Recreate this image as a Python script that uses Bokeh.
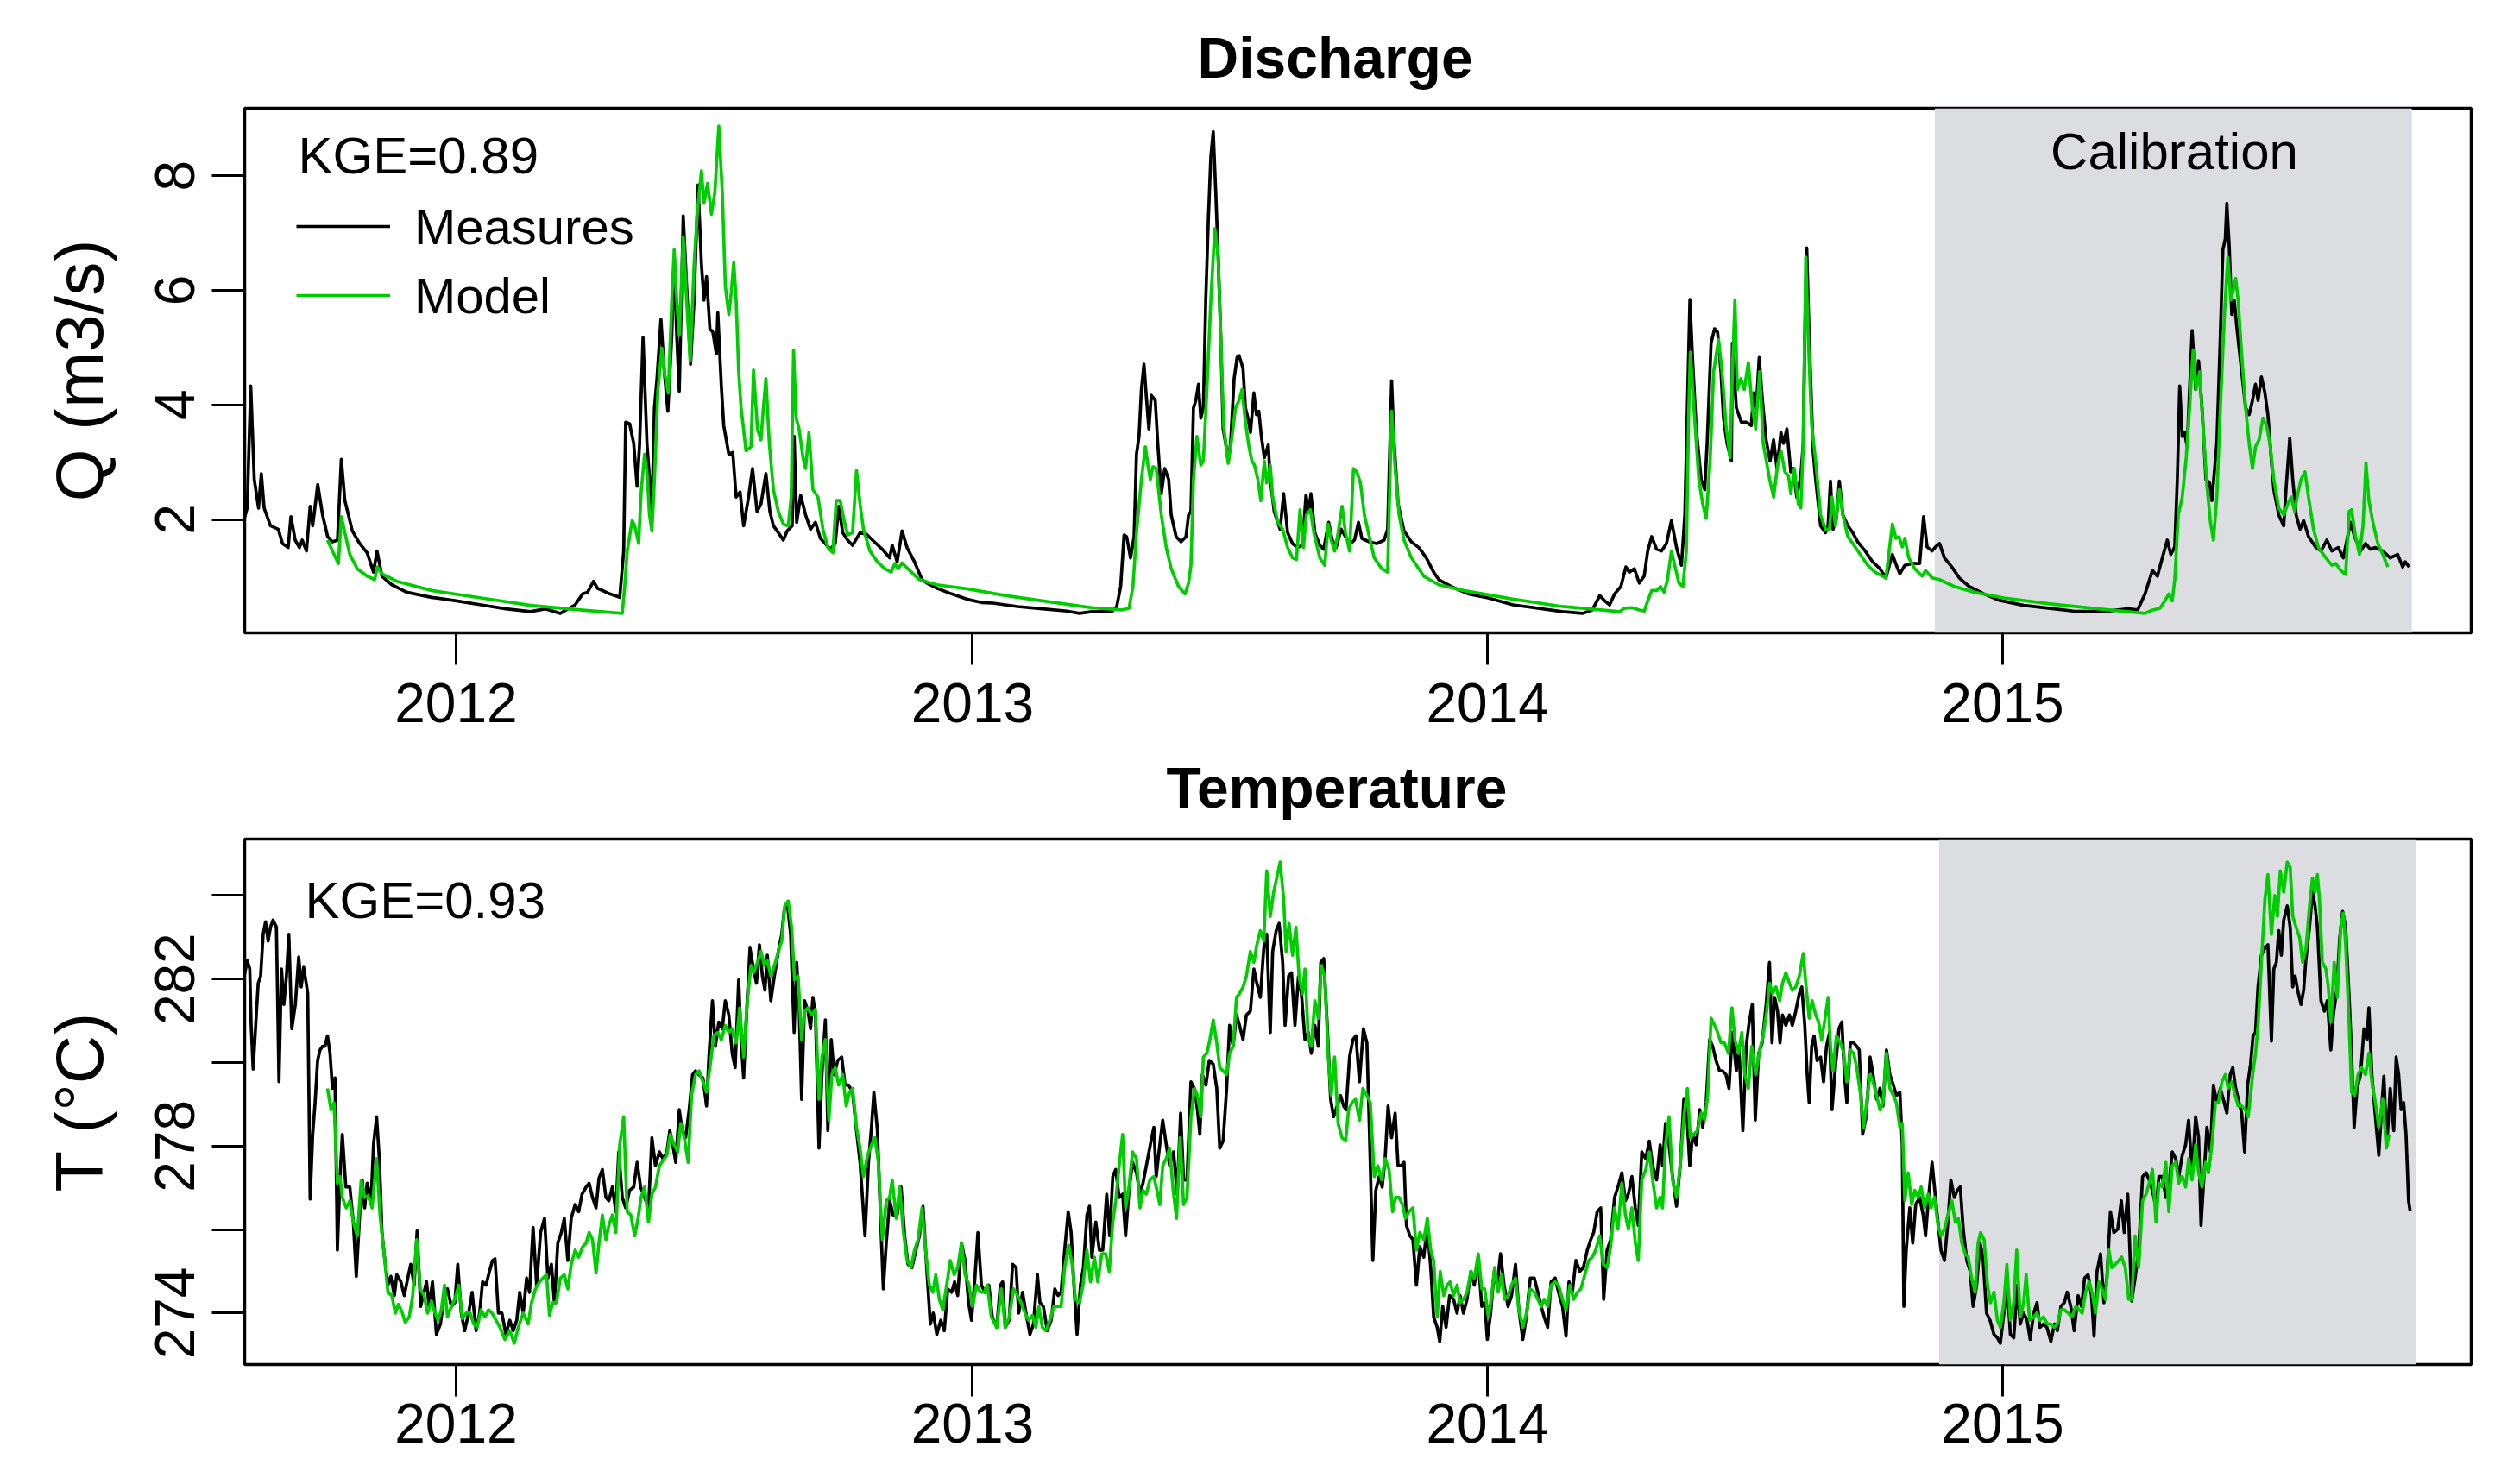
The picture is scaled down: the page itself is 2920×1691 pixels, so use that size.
from bokeh.plotting import figure
from bokeh.layouts import column
from bokeh.models import FixedTicker, BoxAnnotation, Label, Legend, LegendItem, Range1d, Title
from bokeh.embed import file_html
from bokeh.resources import INLINE

# ---------------- data (x = days since 2012-01-01) ----------------
year_ticks = [0, 366, 731, 1096]
year_labels = ["2012", "2013", "2014", "2015"]
q_ticks = [2, 4, 6, 8]
q_labels = ["2", "4", "6", "8"]
t_ticks = [274, 276, 278, 280, 282, 284]
t_labels = ["274", "", "278", "", "282", ""]

kge_q = "KGE=0.89"
kge_t = "KGE=0.93"
calib_q = [1048, 1386]   # calibration period (days), discharge panel
calib_t = [1051, 1389]   # calibration period (days), temperature panel

q_obs = [(-150,2.02),(-148,2.20),(-145.5,4.33),(-143,2.70),(-140,2.20),(-138,2.80),(-136,2.20),(-131.5,1.89),(-126,1.83),(-123,1.58),(-119,1.51),(-117,2.05),(-114,1.64),(-111,1.51),(-109,1.64),(-106,1.45),(-103.4,2.23),(-101.6,1.89),(-98,2.61),(-94.6,2.08),(-91,1.70),(-87.6,1.61),(-84,1.64),(-81.3,3.05),(-78.8,2.33),(-73.5,1.80),(-68.3,1.58),(-63,1.42),(-58.5,1.08),(-56,1.45),(-52.5,1.01),(-45.5,0.86),(-35,0.73),(-17.4,0.64),(0.2,0.58),(17.7,0.51),(35.3,0.44),(52.8,0.39),(63.4,0.44),(73.9,0.36),(84.4,0.51),(89.7,0.70),(93.2,0.73),(97.4,0.92),(100.2,0.80),(109,0.70),(116,0.64),(118.8,1.45),(120.2,3.70),(123,3.67),(125.9,3.33),(128.3,2.58),(130.1,3.33),(132.5,5.18),(135.3,3.33),(138.8,2.14),(140.6,3.95),(142.4,4.46),(145.2,5.49),(147.6,4.58),(150.1,3.89),(152.9,5.21),(154.6,6.58),(156.4,5.21),(158.2,4.24),(161,7.30),(163.4,6.08),(166.2,4.71),(168.7,5.83),(171.5,7.84),(173.9,6.46),(175.7,5.83),(177.5,6.24),(179.9,5.33),(182,5.27),(184.5,4.89),(185.5,5.61),(188,4.33),(189.7,3.64),(193.3,3.14),(196.1,3.17),(198.5,2.39),(201.3,2.48),(203.8,1.89),(207.3,2.39),(210.1,2.89),(213.3,2.14),(216.1,2.27),(219.6,2.80),(222.4,2.14),(224.9,1.89),(228.4,1.77),(231.9,1.64),(234.7,1.80),(238.2,1.89),(239.6,3.45),(241.4,1.95),(244.2,2.42),(247.7,2.08),(251.2,1.83),(254.7,1.95),(258.2,1.67),(261.7,1.58),(265.2,1.48),(268.7,1.58),(271.2,2.23),(274,1.77),(277.5,1.64),(281,1.55),(286.3,1.77),(290.9,1.74),(295.1,1.64),(302.1,1.48),(307.3,1.33),(309.1,1.55),(312.6,1.26),(316.1,1.80),(319.6,1.51),(324.9,1.26),(330.2,0.95),(333.7,0.89),(340.7,0.80),(351.2,0.70),(361.8,0.61),(372.3,0.55),
(380.4,0.54),(398,0.48),(415.5,0.44),(433,0.40),(441.8,0.36),(450.6,0.39),(464.7,0.39),(468.2,0.48),(471,0.83),(473.4,1.73),(475.2,1.70),(478,1.33),(480.5,1.70),(482.2,3.14),(484,3.45),(485.7,4.27),(487.5,4.71),(489.2,4.14),(491,3.58),(492.7,4.17),(495.5,4.08),(497.3,3.33),(499.8,2.45),(502.2,2.89),(505,2.70),(506.8,2.08),(510.3,1.70),(513.8,1.61),(517.3,1.70),(519.1,2.08),(520.8,2.14),(522.6,3.95),(524.3,4.08),(526.1,4.36),(527.8,3.77),(529.6,3.95),(531.3,5.83),(533.1,7.21),(534.9,8.34),(536.6,8.77),(538.4,7.71),(540.1,6.58),(541.9,5.21),(543.6,3.58),(545.4,3.33),(547.2,3.02),(548.9,3.33),(551.4,4.46),(553.5,4.83),(554.9,4.86),(557.7,4.64),(559.4,3.95),(561.2,3.77),(563,3.52),(565.4,4.21),(567.2,3.83),(568.9,3.89),(570.7,3.45),(572.8,3.08),(575.6,3.30),(577,2.70),(579.8,2.14),(582.3,1.95),(584,1.83),(586.5,2.45),(589.3,1.77),(592.8,1.58),(596.3,1.51),(599.8,1.55),(602.3,2.42),(604.4,2.14),(605.8,2.45),(608.6,1.77),(612.1,1.55),(614.9,1.48),(618.4,1.95),(620.9,1.64),(623.7,1.51),(627.2,1.83),(630.3,1.70),(633.9,1.58),(636.7,1.64),(639.5,1.95),(641.9,1.67),(647.2,1.61),(652.5,1.58),(657.7,1.64),(660.2,1.83),(663,4.42),(664.8,3.33),(667.6,2.27),(671.8,1.80),(677,1.61),(682.3,1.51),(687.6,1.33),(692.8,1.08),(696.4,0.95),(705.1,0.83),(717.4,0.70),(731.5,0.63),(749,0.51),(766.6,0.45),(784.1,0.39),(798.2,0.36),(805.2,0.42),(810.5,0.67),(814,0.58),(817.5,0.51),(821,0.70),(825.5,0.83),(829,1.17),(831.5,1.08),(835,1.14),(838.5,0.89),(842,1.01),(844.5,1.45),(847.3,1.70),(850.8,1.48),(854.3,1.45),(857.8,1.58),(861.3,1.98),(864.9,1.51),(868.4,1.20),(870.8,2.08),(872.6,3.95),(874.4,5.84),(876.1,4.89),(878.9,3.58),(882.4,2.70),(884.9,2.52),(886.6,3.33),(889.4,5.08),(891.9,5.33),(894,5.27),(896.4,4.58),(898.2,3.77),(900.7,3.33),
(903.8,3.02),(904.5,5.08),(907.3,3.95),(910.8,3.70),(914.3,3.70),(917.9,3.64),(919.6,4.21),(921.4,3.95),(923.5,4.83),(925.6,4.14),(928.4,3.39),(931.2,3.02),(933.7,3.39),(936.1,2.89),(938.9,3.52),(940.7,3.33),(943.1,3.58),(945.9,2.83),(947.7,2.89),(950.1,2.39),(953,2.77),(954.7,3.33),(955.8,5.21),(957.2,6.74),(958.9,5.21),(961.7,3.20),(963.5,2.70),(967,1.89),(970.5,1.77),(972.3,1.89),(974,2.67),(975.8,1.83),(978.2,2.02),(980.3,2.67),(982.8,2.08),(986.3,1.89),(989.8,1.77),(993.3,1.61),(998.6,1.45),(1003.9,1.26),(1009.1,1.14),(1013.3,0.98),(1017.9,1.39),(1020.7,1.20),(1023.2,1.05),(1026.7,1.20),(1031.9,1.23),(1037.2,1.23),(1040,2.05),(1042.5,1.52),(1046,1.45),(1048.4,1.52),(1051.3,1.58),(1054.8,1.33),(1060,1.17),(1065.3,0.98),(1072.3,0.83),(1082.9,0.70),(1093.4,0.59),(1110.9,0.50),(1128.5,0.45),(1146,0.40),(1167.1,0.39),(1184.7,0.44),(1191.7,0.42),(1196.9,0.70),(1202.2,1.11),(1205.7,1.01),(1209.2,1.33),(1212.7,1.64),(1215.2,1.39),(1218,1.52),(1219.8,2.70),(1221.5,4.33),(1223.3,3.45),(1225,3.52),(1226.8,3.27),(1228.5,4.27),(1230.3,5.30),(1232.8,4.27),(1234.9,4.77),(1237.3,3.95),(1240.1,2.70),(1242.6,2.64),(1244.3,2.33),(1247.8,3.33),(1250.3,5.21),(1252.1,6.71),(1253.8,6.90),(1254.9,7.52),(1256.6,6.77),(1258.4,5.58),(1260.1,5.83),(1262.6,5.21),(1265.4,4.58),(1268.2,3.95),(1270.7,3.83),(1273.1,4.08),(1275.2,4.36),(1277,4.08),(1279.4,4.49),(1281.9,4.21),(1284,3.83),(1286.5,3.02),(1288.2,2.52),(1291.7,2.08),(1295.2,1.89),(1297,2.58),(1299.5,3.42),(1301.6,2.70),(1304,2.08),(1306.8,1.83),(1309.3,1.98),(1312.8,1.70),(1318.1,1.51),(1321.6,1.45),(1325.8,1.64),(1329.3,1.45),(1333.9,1.51),(1337.4,1.33),(1342.6,1.95),(1345.4,1.70),(1349.7,1.45),(1353.2,1.58),(1356.7,1.48),(1360.2,1.51),(1365.4,1.45),(1370.7,1.33),(1376,1.39),(1379.5,1.17),(1381.3,1.26),(1384.1,1.17)]

q_mod = [(-91.1,1.64),(-87.6,1.45),(-83.4,1.23),(-81.3,2.05),(-78.8,1.77),(-75.3,1.39),(-70,1.14),(-63,1.01),(-57.7,0.95),(-55.6,1.17),(-52.5,1.05),(-42,0.92),(-17.4,0.76),(17.7,0.63),(52.8,0.50),(87.9,0.42),(117.8,0.36),(119.5,0.83),(121.3,1.45),(124.8,1.98),(126.6,1.89),(129.4,1.58),(131.1,2.45),(133.6,3.14),(135.3,2.83),(137.1,2.08),(138.8,1.80),(140.6,2.70),(143.1,4.27),(145.9,4.99),(147.6,4.58),(150.4,4.21),(152.9,5.83),(154.6,6.71),(156.4,5.83),(158.2,5.21),(161,6.93),(163.4,5.83),(165.9,4.77),(168.7,6.46),(171.1,7.40),(173.9,8.09),(175.7,7.52),(178.2,7.87),(181,7.33),(183.4,7.71),(186.2,8.87),(188.7,7.71),(190.8,6.08),(193.3,5.58),(195,5.96),(196.8,6.49),(198.5,5.83),(200.3,4.58),(202,3.95),(205.5,3.20),(209,3.27),(210.8,4.61),(213.6,3.58),(216.1,3.39),(217.8,3.95),(219.6,4.46),(222,3.33),(224.9,2.52),(228.4,2.14),(231.9,1.92),(235.4,1.89),(237.5,2.39),(239.2,4.96),(241,3.77),(243.1,3.58),(245.9,3.08),(247.7,2.89),(250.1,3.52),(252.9,2.52),(256.5,2.39),(260,1.83),(263.5,1.51),(267,1.42),(269.4,2.33),(272.2,2.33),(274.7,2.02),(277.5,1.73),(281,1.77),(283.8,2.86),(286.3,2.27),(288.7,1.83),(293.3,1.45),(298.6,1.26),(303.8,1.14),(308.4,1.08),(310.9,1.23),(313.3,1.14),(316.1,1.24),(321.4,1.11),(328.4,0.95),(340.7,0.86),(361.8,0.79),(389.9,0.67),
(415.5,0.58),(450.6,0.46),(471.7,0.42),(476.9,0.45),(479.7,0.83),(482.2,1.77),(485.7,2.70),(488.5,3.27),(490.3,2.95),(492,2.70),(493.8,2.92),(496.2,2.89),(499.8,2.08),(503.3,1.51),(506.8,1.14),(512,0.83),(516.6,0.70),(519.1,0.89),(520.8,1.20),(522.6,2.70),(525,3.45),(527.8,2.95),(529.6,3.02),(532.1,4.27),(534.9,5.83),(537.7,7.08),(540.1,6.58),(541.9,5.21),(544,3.64),(547.2,2.98),(549.6,3.39),(552.4,3.95),(554.9,4.08),(557,4.27),(559.4,3.70),(561.9,3.27),(564,3.02),(565.8,2.95),(568.2,2.70),(570.3,2.33),(572.8,3.02),(574.5,2.64),(577,2.95),(578.7,2.39),(582.3,1.95),(585.8,1.83),(589.3,1.51),(592.8,1.33),(595.6,1.30),(598.1,2.17),(600.5,1.51),(602.6,2.08),(605.4,2.17),(607.9,1.77),(612.1,1.33),(615.6,1.20),(618.1,1.92),(620.2,1.64),(622.6,1.45),(625.1,1.77),(627.9,2.23),(630.3,1.77),(633.2,1.45),(636,2.89),(638.4,2.83),(640.9,2.64),(643.7,2.08),(647.2,1.70),(650.7,1.33),(656,1.14),(660.2,1.08),(663,3.89),(665.5,2.89),(668.3,2.08),(671.8,1.64),(677,1.33),(685.8,1.01),(696.4,0.86),(713.9,0.76),(749,0.61),(784.1,0.48),(824.5,0.39),(828,0.45),(833.3,0.46),(838.5,0.42),(842,0.40),(844.5,0.58),(847.3,0.76),(850.8,0.76),(853.6,0.83),(856.1,0.73),(858.5,0.95),(861.3,1.45),(864.2,1.14),(866.6,0.89),(869.4,0.83),(871.9,1.45),(873.6,3.95),(874.7,4.92),(877.2,3.95),(880.7,2.70),(883.5,2.27),(885.9,2.02),(888.7,3.02),(891.2,4.58),(894.7,5.14),(897.2,4.58),(900,3.64),(902.8,3.08),(904.5,4.58),(906.3,5.83),(908,4.27),(910.5,4.46),(912.9,4.27),(915.8,4.74),(918.6,3.95),(921,3.58),(923.8,4.58),(926.3,3.33),(930.9,2.70),
(933.7,2.39),(936.5,2.95),(938.9,3.20),(941.7,2.83),(944.2,2.77),(945.9,2.45),(948.4,2.89),(951.2,2.27),(953,2.20),(954.7,3.33),(956.5,6.58),(958.2,5.21),(960.7,3.64),(963.5,3.02),(967,2.08),(970.5,1.83),(973.3,1.83),(975.1,2.39),(977.5,1.89),(980.3,2.52),(982.8,2.08),(986.3,1.70),(989.8,1.58),(995.1,1.39),(1000.4,1.20),(1005.6,1.08),(1013.3,0.98),(1017.9,1.92),(1020.4,1.67),(1022.5,1.70),(1024.9,1.52),(1026.7,1.67),(1029.5,1.33),(1033.7,1.14),(1039,1.01),(1041.4,1.11),(1046,0.98),(1051.3,0.95),(1061.8,0.83),(1075.8,0.73),(1096.9,0.63),(1128.5,0.53),(1163.6,0.44),(1196.9,0.36),(1202.2,0.42),(1207.5,0.45),(1211,0.58),(1213.8,0.70),(1216.2,0.58),(1218,0.95),(1220.5,2.08),(1223.3,2.39),(1226.1,3.08),(1228.5,3.95),(1231,4.96),(1233.1,4.27),(1235.6,4.58),(1238,3.64),(1240.8,2.58),(1243.3,1.95),(1245.4,1.64),(1247.8,2.39),(1250.3,3.95),(1253.1,5.52),(1255.6,6.58),(1257.7,5.83),(1259.1,5.96),(1261.2,6.21),(1262.9,5.83),(1265.4,4.89),(1268.2,3.95),(1270.7,3.33),(1273.1,2.89),(1275.2,3.27),(1277.7,3.39),(1280.5,3.77),(1283,3.64),(1285.4,3.33),(1288.2,2.70),(1291.7,2.20),(1295.2,2.08),(1298.1,2.27),(1300.5,2.39),(1303,2.14),(1304.7,2.39),(1307.5,2.70),(1310.3,2.83),(1312.8,2.39),(1316.3,1.83),(1319.8,1.51),(1325.1,1.33),(1329.3,1.20),(1332.1,1.23),(1335.6,1.11),(1339.1,1.04),(1341.6,2.14),(1343.3,2.17),(1346.1,1.70),(1348.9,1.39),(1351.4,1.89),(1353.5,2.99),(1355.6,2.33),(1358.4,1.95),(1361.9,1.58),(1365.4,1.39),(1369,1.17)]

t_obs = [(-150.1,282.07),(-148.0,282.44),(-146.2,282.24),(-145.2,280.89),(-143.8,279.84),(-142.0,280.89),(-140.2,281.90),(-138.5,282.07),(-136.7,283.07),(-135.0,283.37),(-133.2,282.91),(-131.5,283.24),(-129.7,283.41),(-127.3,283.24),(-125.5,279.54),(-123.7,282.24),(-122.0,281.39),(-120.2,282.07),(-118.5,283.07),(-116.4,280.81),(-113.9,281.39),(-111.5,282.53),(-109.7,281.81),(-108.0,282.28),(-106.2,281.90),(-105.1,281.65),(-103.4,276.73),(-101.6,278.28),(-99.9,279.04),(-98.1,280.05),(-96.4,280.30),(-94.6,280.39),(-92.9,280.39),(-91.1,280.64),(-89.3,280.22),(-87.6,279.38),(-85.8,279.63),(-84.1,275.51),(-82.3,277.19),(-80.6,278.28),(-78.1,277.02),(-75.3,277.02),(-72.8,276.18),(-70.7,274.88),(-68.3,276.35),(-66.5,277.19),(-64.8,276.52),(-63.0,277.11),(-60.2,276.69),(-58.5,278.03),(-56.3,278.70),(-54.2,277.61),(-52.5,275.93),(-50.7,275.34),(-48.3,274.67),(-46.2,274.88),(-43.7,274.42),(-42.0,274.92),(-39.1,274.75),(-36.7,274.42),(-34.2,274.84),(-32.1,275.17),(-29.7,274.67),(-27.6,275.97),(-25.1,274.16),(-23.3,274.42),(-20.9,274.75),(-19.1,274.16),(-16.7,274.75),(-13.9,273.49),(-11.1,273.74),(-8.6,274.33),(-6.1,274.58),(-3.3,274.16),(-0.9,274.25),(1.2,275.17),(3.7,274.00),(6.1,273.58),(8.9,274.00),(11.4,274.50),(14.2,273.58),(16.7,274.00),(18.8,274.75),(21.2,274.67),(23.7,275.00),(25.8,275.26),(27.6,275.30),(30.0,274.00),(32.5,274.00),(35.3,273.49),(38.1,273.83),(40.5,273.58),(43.0,273.83),(45.1,274.50),(47.6,274.00),(50.0,274.84),(52.1,274.50),(54.6,276.05),(57.1,274.67),(59.9,275.93),(62.7,276.27),(65.1,274.84),(67.6,275.17),(69.7,274.25),(72.1,275.68),(74.6,275.93),(76.7,276.27),(79.2,275.26),(81.6,276.27),(84.4,276.60),(86.9,276.43),(89.3,276.85),(92.2,277.02),(94.3,277.11),(96.7,276.77),(99.2,276.52),(101.3,277.23),(103.7,277.44),(106.2,276.77),(108.3,276.69),(110.8,277.02),(113.2,276.43),(115.3,277.86),(117.8,276.77),(120.2,276.52),(123.0,276.94),(125.9,277.02),(128.3,277.61),(130.8,277.02),(133.6,276.77),(136.4,276.52),(138.8,278.20),(141.3,277.53),(144.1,277.86),(146.6,277.70),(149.4,277.86),(151.5,278.37),(153.6,278.03),(155.7,277.61),(158.2,278.87),(160.3,278.37),(162.7,278.20),(165.2,278.87),(167.6,279.71),(169.7,279.80),(172.2,279.71),(175.0,279.63),(177.5,278.96),(179.2,280.13),(181.7,281.48),(183.8,280.39),(186.2,280.97),(188.7,280.81),(190.8,281.48),(193.3,281.14),(195.7,280.22),(197.8,279.88),(200.3,281.98),(202.0,280.55),(203.8,279.63),(206.2,281.39),(208.3,282.74),(210.8,282.24),(212.9,281.90),(215.0,282.82),(217.1,282.07),(218.9,281.73),(220.6,282.57),(223.1,281.48),(225.6,282.07),(228.4,282.66),(230.8,283.07),(232.6,283.66),(234.7,283.83),(237.1,283.07),(239.6,280.72),(241.4,282.40),(243.1,281.39),(244.9,279.12),(247.0,281.48),(249.4,281.23),(251.2,280.81),(252.9,281.56),(254.7,281.14),(257.2,277.95),(259.3,279.71),(261.7,281.02),(263.5,278.37),(265.9,280.55),(268.0,279.71),(270.5,280.05),(273.3,280.13),(275.7,279.46),(278.2,279.46),(281.0,279.29),(283.5,278.45),(286.3,277.61),(288.0,276.77),(289.8,275.85),(292.3,277.61),(294.4,278.45),(296.1,279.29),(298.6,278.37),(300.3,276.77),(302.8,274.58),(304.9,275.68),(307.3,276.69),(309.8,276.35),(312.6,276.35),(315.4,277.02),(317.9,275.85),(320.3,275.17),(323.1,275.09),(325.9,275.51),(328.4,275.85),(330.9,276.56),(333.7,275.00),(336.1,273.74),(338.2,274.00),(340.7,273.49),(343.5,273.83),(346.0,273.58),(348.4,274.58),(351.2,274.50),(353.3,274.75),(355.5,274.42),(358.2,275.68),(360.7,275.26),(363.2,274.25),(365.3,273.83),(367.7,274.84),(369.8,275.93),(372.3,274.67),(374.8,274.50),(377.6,274.67),(380.0,273.91),
(383.2,273.66),(385.7,274.67),(387.4,274.75),(389.2,273.66),(392.0,273.83),(394.4,275.17),(396.9,275.09),(398.7,274.00),(401.5,274.50),(403.9,274.00),(406.7,273.49),(409.2,273.74),(412.0,274.92),(413.8,274.25),(416.2,274.16),(419.0,273.58),(421.8,273.83),(424.3,274.58),(426.7,274.42),(428.8,274.50),(431.3,275.51),(433.8,276.43),(435.9,275.93),(437.6,274.84),(440.1,273.49),(442.5,274.67),(444.6,275.09),(447.1,276.35),(448.9,276.56),(450.6,275.34),(453.4,276.18),(455.9,275.51),(458.3,275.51),(461.1,276.85),(463.2,275.85),(465.4,277.27),(467.5,277.44),(469.9,276.77),(472.4,276.85),(474.5,275.85),(476.9,276.94),(479.4,277.61),(482.2,277.36),(484.7,276.85),(486.8,277.11),(489.2,277.53),(492.0,278.03),(494.5,278.45),(496.2,277.27),(498.7,278.03),(500.8,278.62),(503.3,278.03),(505.7,277.53),(508.5,277.86),(511.0,276.85),(513.5,278.79),(515.6,277.19),(518.0,277.19),(520.8,279.54),(523.3,279.38),(525.4,278.87),(527.1,278.28),(528.9,279.71),(531.4,279.46),(533.8,280.05),(536.6,279.96),(539.1,279.38),(541.2,277.95),(543.6,278.12),(546.1,279.38),(548.2,280.89),(550.7,280.39),(553.1,281.14),(555.2,280.89),(557.7,280.55),(560.1,281.14),(562.9,281.23),(565.4,282.24),(567.5,281.90),(570.0,281.56),(572.4,282.74),(574.5,283.07),(577.0,280.72),(578.7,282.66),(581.2,283.16),(583.3,283.33),(585.8,282.40),(587.5,280.89),(590.0,282.07),(592.1,282.15),(594.5,280.89),(597.0,282.07),(599.1,281.65),(601.6,280.55),(604.0,280.72),(606.1,280.22),(608.6,280.89),(611.0,280.39),(612.8,282.40),(614.9,282.49),(617.4,280.89),(619.8,279.12),(621.9,278.70),(624.4,278.96),(626.8,279.21),(629.0,278.96),(630.7,278.87),(633.2,280.13),(635.6,280.55),(637.7,280.64),(640.2,279.54),(643.0,280.81),(645.5,280.47),(647.2,278.45),(649.7,275.26),(651.8,276.94),(654.2,277.27),(656.3,277.02),(658.4,277.70),(660.5,278.96),(663.0,278.20),(665.5,278.79),(667.6,277.53),(669.7,277.53),(671.8,277.61),(673.5,276.10),(676.0,275.85),(678.1,275.76),(680.6,274.67),(683.0,275.59),(685.8,275.34),(688.3,276.10),(690.7,275.09),(692.8,273.91),(695.3,273.66),(697.1,273.32),(699.2,274.16),(701.6,273.66),(704.1,274.42),(706.9,274.33),(709.4,274.00),(711.5,274.42),(713.9,274.00),(716.4,274.33),(719.2,275.00),(721.6,274.67),(724.4,275.26),(726.9,274.16),(729.0,274.25),(730.8,273.37),(733.2,274.00),(735.7,275.00),(737.8,274.67),(740.2,275.42),(742.7,274.67),(745.5,274.16),(748.0,274.42),(750.8,275.17),(753.2,274.08),(756.0,273.37),(758.5,273.91),(761.3,274.84),(764.1,274.84),(766.6,274.50),(769.0,274.16),(771.1,273.91),(773.6,273.66),(776.0,274.75),(778.9,274.84),(781.3,274.50),(784.1,274.16),(786.6,273.45),(788.7,274.75),(791.1,274.50),(793.6,275.26),(796.4,275.00),(798.9,275.09),(801.7,275.51),(804.1,275.76),(806.2,275.93),(808.7,276.43),(811.2,276.52),(813.3,274.33),(815.7,275.51),(818.2,275.76),(821.0,276.77),(823.4,277.02),(826.2,277.36),(828.7,276.69),(830.8,276.85),(833.3,277.27),(835.7,276.52),(837.8,276.10),(840.3,277.86),(843.1,277.70),(845.6,278.12),(848.0,277.53),(850.8,277.19),(853.3,278.03),(855.0,277.53),(857.1,278.54),(859.6,278.03),(862.1,277.27),(864.9,276.56),(867.7,277.61),(870.1,279.12),(871.9,278.96),(874.3,277.53),(876.4,278.28),(878.9,278.03),(881.4,278.87),(883.5,278.45),(885.9,279.04),(888.4,280.55),(890.5,280.39),(892.9,280.05),(895.4,279.80),(897.5,279.80),(900.0,279.71),
(902.1,279.38),(904.5,280.72),(907.3,279.80),(909.1,280.39),(911.9,278.37),(914.3,280.39),(916.1,280.89),(918.6,281.39),(920.7,278.62),(923.1,280.22),(925.6,280.47),(928.4,281.39),(930.8,282.40),(932.6,280.47),(934.4,281.56),(936.5,281.23),(938.2,280.47),(940.0,281.14),(942.4,280.89),(944.9,281.14),(947.0,280.89),(949.4,281.23),(951.9,281.65),(953.7,281.81),(955.8,280.89),(957.5,279.71),(958.9,279.04),(960.7,280.39),(962.4,280.64),(964.5,280.05),(967.0,280.13),(969.1,279.54),(971.2,280.39),(973.3,280.72),(975.1,278.87),(977.5,279.88),(980.0,280.81),(982.1,280.97),(983.9,279.71),(985.6,279.04),(988.1,280.47),(990.5,280.47),(992.6,280.39),(994.4,280.30),(996.8,278.28),(999.3,278.70),(1002.1,280.13),(1004.2,279.71),(1006.7,279.12),(1009.1,279.38),(1011.2,278.96),(1013.7,280.30),(1016.1,279.71),(1018.6,279.46),(1020.7,279.21),(1023.2,279.29),(1024.9,278.03),(1026.0,274.16),(1027.7,275.51),(1030.2,276.52),(1032.3,275.68),(1034.4,276.60),(1037.2,276.77),(1039.7,276.35),(1041.4,275.85),(1043.5,276.77),(1046.0,277.61),(1047.7,277.02),(1050.2,276.18),(1052.3,275.51),(1054.8,275.26),(1057.2,276.18),(1059.3,277.19),(1061.8,276.77),(1063.9,276.94),(1066.0,277.02),(1068.1,276.01),(1070.6,275.26),(1073.0,275.00),(1075.1,274.16),(1077.6,274.67),(1080.0,275.68),(1082.1,275.34),(1084.6,274.00),(1087.1,273.83),(1089.9,273.49),(1092.3,273.41),(1094.4,273.28),(1096.9,274.00),(1099.3,274.67),(1101.5,273.49),(1103.9,273.41),(1106.4,274.67),(1108.5,273.74),(1110.9,274.00),(1113.4,273.83),(1115.5,273.37),(1118.0,274.00),(1120.4,274.25),(1122.5,273.66),(1125.0,273.74),(1127.4,273.66),(1130.2,273.32),(1132.7,273.74),(1134.8,273.58),(1137.3,274.16),(1139.7,274.25),(1141.8,274.50),(1144.3,274.16),(1146.7,273.58),(1149.5,274.42),(1152.0,274.16),(1154.1,274.84),(1156.6,274.92),(1159.0,274.42),(1160.8,273.45),(1162.9,275.00),(1165.4,275.42),(1167.8,274.25),(1169.9,274.84),(1172.4,276.43),(1174.8,275.93),(1177.6,276.01),(1180.1,276.69),(1182.2,275.93),(1184.7,276.85),(1187.5,274.29),(1189.9,274.84),(1192.4,275.51),(1195.2,277.27),(1197.7,277.36),(1199.8,277.19),(1202.2,276.94),(1204.7,276.52),(1206.8,277.27),(1209.2,277.27),(1211.7,276.77),(1213.8,277.02),(1216.2,277.86),(1218.7,277.70),(1220.8,277.27),(1223.3,277.78),(1225.7,278.03),(1227.8,278.62),(1230.3,277.36),(1232.8,278.70),(1234.9,278.20),(1236.6,276.10),(1238.4,277.11),(1240.8,278.45),(1243.3,277.86),(1245.4,279.46),(1247.8,279.04),(1250.3,279.38),(1252.4,279.12),(1254.9,278.79),(1257.3,279.71),(1259.1,279.88),(1261.2,279.38),(1263.6,279.04),(1265.4,278.79),(1267.5,277.86),(1269.6,279.46),(1271.7,279.96),(1273.5,280.64),(1275.2,280.72),(1277.0,281.81),(1279.4,282.57),(1281.9,282.74),(1284.0,282.82),(1286.5,280.51),(1288.2,282.24),(1290.0,282.40),(1291.7,283.16),(1293.5,282.57),(1295.2,283.41),(1297.7,283.75),(1299.8,283.24),(1301.6,281.81),(1303.3,282.07),(1305.1,281.73),(1307.5,281.39),(1309.3,281.73),(1311.0,282.49),(1313.5,283.24),(1315.6,284.08),(1317.4,283.75),(1319.1,283.24),(1321.6,281.48),(1324.0,281.23),(1326.1,281.48),(1328.6,280.30),(1330.4,281.14),(1332.8,281.73),(1334.9,282.99),(1337.0,283.62),(1339.1,283.24),(1341.6,281.56),(1343.3,280.22),(1345.1,278.45),(1347.2,279.38),(1349.7,279.71),(1352.1,280.81),(1354.2,280.55),(1355.6,281.31),(1357.7,279.71),(1360.2,278.70),(1362.6,277.78),(1364.7,278.96),(1366.2,279.67),(1368.3,278.03),(1370.7,279.38),(1373.2,278.37),(1374.9,280.13),(1376.7,279.71),(1378.4,278.87),(1380.2,279.04),(1381.9,278.28),(1383.7,276.69),(1384.8,276.44)]

t_mod = [(-91.1,279.38),(-88.6,278.87),(-86.5,279.04),(-84.1,277.11),(-82.3,277.27),(-80.6,276.77),(-77.8,276.52),(-75.3,276.69),(-72.8,276.18),(-70.0,275.85),(-67.2,277.19),(-64.8,276.77),(-62.3,276.81),(-59.5,276.52),(-56.3,277.70),(-53.9,276.35),(-50.7,275.34),(-48.3,274.50),(-45.5,274.42),(-43.0,274.00),(-40.9,274.21),(-38.4,274.04),(-36.0,273.78),(-33.2,273.91),(-30.7,274.42),(-27.9,275.76),(-25.4,274.58),(-22.6,274.42),(-20.2,274.00),(-17.4,274.29),(-14.9,274.00),(-12.8,273.83),(-10.4,274.08),(-8.2,274.67),(-6.1,273.91),(-3.3,274.16),(-0.9,274.33),(1.9,274.67),(4.4,273.87),(7.2,274.00),(10.0,274.00),(12.5,273.74),(14.9,273.66),(17.7,274.08),(20.5,273.91),(23.0,274.08),(25.5,274.00),(28.3,273.83),(31.1,273.66),(34.6,273.37),(38.1,273.58),(41.3,273.28),(44.1,273.66),(47.6,274.00),(51.1,273.74),(53.5,274.25),(56.3,274.58),(59.2,274.75),(61.6,274.84),(64.1,274.92),(66.2,273.95),(68.6,274.25),(71.1,274.25),(73.9,274.84),(76.7,274.92),(79.2,274.58),(81.6,275.17),(84.4,275.51),(86.9,275.34),(89.7,275.59),(92.2,275.68),(94.3,275.93),(96.7,275.76),(99.2,274.96),(101.3,275.68),(103.7,276.35),(106.2,275.76),(108.3,276.10),(110.8,276.35),(113.2,275.93),(116.0,278.03),(118.8,278.70),(121.3,276.43),(123.8,276.35),(126.6,275.85),(129.0,276.27),(131.1,276.77),(133.6,277.02),(136.4,276.18),(138.8,276.85),(141.3,277.02),(144.1,277.53),(146.6,277.65),(149.4,277.78),(151.8,278.28),(154.6,278.03),(157.1,277.86),(159.2,278.54),(161.7,278.20),(164.5,277.61),(166.9,279.21),(169.7,279.71),(172.2,279.80),(175.0,279.54),(177.5,279.29),(179.9,279.88),(182.7,280.64),(185.5,280.72),(188.0,280.55),(190.8,280.89),(193.3,280.72),(195.7,280.81),(198.5,280.47),(201.0,281.31),(203.8,280.13),(206.2,281.39),(209.0,282.32),(210.8,282.15),(213.6,282.40),(216.1,282.66),(218.5,282.32),(220.6,282.44),(223.1,282.07),(225.6,282.32),(228.4,282.66),(230.8,282.91),(232.9,283.75),(235.4,283.87),(237.8,283.24),(239.9,281.98),(242.4,282.07),(244.9,280.55),(247.0,281.23),(249.4,281.31),(251.9,281.14),(254.7,281.27),(257.2,279.12),(259.3,280.13),(261.7,280.55),(264.2,278.62),(266.3,279.71),(268.7,279.88),(271.2,279.46),(274.0,279.71),(276.5,278.96),(278.9,279.29),(281.0,279.38),(283.8,278.45),(286.3,277.95),(288.7,277.27),(291.6,277.78),(294.4,278.03),(296.8,278.20),(299.3,277.61),(302.1,275.76),(304.9,276.69),(307.3,276.77),(309.1,277.19),(311.9,276.27),(314.4,277.02),(316.8,276.01),(319.6,275.26),(322.4,275.09),(324.9,275.51),(327.4,275.76),(330.2,276.52),(333.0,275.42),(335.4,274.67),(337.9,274.50),(340.0,274.92),(342.5,274.33),(344.9,274.08),(347.7,274.67),(350.2,275.26),(353.0,274.92),(355.5,275.09),(358.2,275.68),(360.7,274.92),(363.5,274.67),(366.0,274.16),(368.8,274.67),(371.6,274.50),(374.1,274.50),(376.5,274.67),(379.3,273.91),
(383.2,273.66),(386.4,274.58),(389.2,273.66),(392.0,273.91),(395.1,274.58),(398.0,274.42),(400.4,274.25),(403.2,274.00),(405.7,273.83),(408.5,273.95),(410.9,273.66),(413.0,274.16),(415.5,273.66),(418.0,273.58),(420.8,273.83),(423.6,274.16),(426.0,274.16),(428.8,274.16),(431.3,275.09),(434.1,275.63),(436.6,275.17),(439.0,274.33),(441.8,274.25),(444.3,274.67),(447.1,275.51),(449.6,274.75),(452.4,275.34),(454.8,274.75),(457.6,275.42),(460.4,275.42),(462.9,275.00),(465.4,276.18),(467.5,276.69),(469.9,277.53),(472.4,278.28),(474.5,276.52),(476.9,277.02),(479.4,277.86),(482.2,277.70),(484.7,276.52),(486.8,276.94),(489.2,276.85),(491.7,277.19),(494.5,277.27),(497.3,276.85),(498.7,276.60),(500.8,277.53),(503.3,277.70),(505.7,277.95),(508.2,276.94),(510.6,276.27),(513.1,278.20),(515.6,276.60),(518.0,276.77),(520.8,278.70),(523.3,279.38),(525.4,279.21),(527.8,278.70),(529.6,280.13),(532.1,280.22),(534.2,280.55),(536.6,281.02),(539.1,280.47),(541.2,279.88),(543.6,279.80),(546.1,279.71),(548.2,280.22),(550.7,280.39),(553.1,281.56),(555.2,281.65),(557.7,281.81),(560.1,282.07),(562.9,282.66),(565.4,282.40),(567.5,282.82),(570.0,283.16),(572.4,282.91),(574.5,284.59),(577.0,283.50),(579.4,284.08),(581.6,284.42),(584.0,284.80),(586.5,283.92),(588.2,282.66),(590.3,283.33),(592.8,282.57),(595.2,283.24),(597.4,282.07),(599.8,281.65),(601.6,282.24),(604.0,280.55),(606.1,280.39),(608.6,281.48),(611.0,281.06),(613.1,282.32),(615.6,282.07),(618.1,280.13),(620.2,279.21),(622.6,280.13),(625.1,278.54),(627.9,278.20),(630.4,278.12),(632.5,278.87),(634.9,279.04),(637.4,279.12),(640.2,278.62),(642.6,279.38),(645.5,279.21),(647.9,279.04),(650.7,277.27),(653.2,277.53),(656.0,277.19),(658.4,277.70),(661.2,277.44),(663.7,276.43),(665.8,276.77),(668.3,276.77),(670.7,276.60),(672.8,276.27),(675.3,276.43),(678.1,276.52),(680.6,275.51),(683.0,275.93),(685.8,275.76),(688.3,276.27),(690.7,275.51),(692.8,275.26),(695.3,273.91),(697.4,275.00),(699.9,274.42),(702.3,274.67),(704.4,274.75),(706.9,274.42),(709.4,274.67),(711.5,274.25),(713.9,274.33),(716.4,274.50),(719.2,275.00),(721.6,274.84),(724.4,275.42),(726.9,274.58),(729.0,274.58),(731.5,273.91),(733.9,274.42),(736.0,275.09),(738.5,274.50),(741.0,274.92),(743.0,274.33),(745.5,274.42),(748.0,274.67),(750.8,274.84),(753.2,274.08),(756.0,273.66),(758.5,274.00),(761.3,274.58),(764.1,274.50),(766.6,274.33),(769.0,274.16),(771.1,274.33),(773.6,274.16),(776.0,274.67),(778.9,274.75),(781.3,274.67),(784.1,274.33),(786.6,274.08),(789.4,274.67),(791.9,274.33),(794.7,274.50),(797.1,274.58),(799.9,274.92),(802.7,275.26),(805.2,275.34),(807.6,275.51),(810.5,275.85),(812.9,275.17),(815.7,275.09),(818.2,275.59),(821.0,276.52),(823.4,276.01),(826.2,277.11),(828.7,276.35),(830.8,276.01),(833.3,276.52),(835.7,275.68),(837.8,275.26),(840.3,277.19),(843.1,277.44),(845.6,277.86),(848.0,277.19),(850.8,276.52),(853.3,276.77),(855.0,276.52),(857.1,278.03),(859.6,278.70),(862.1,277.19),(864.9,276.77),(867.7,277.61),(870.1,278.70),(872.6,279.38),(874.7,278.20),(877.1,278.28),(879.6,278.37),(882.4,278.79),(884.9,278.62),(887.0,279.21),(889.4,281.06),(891.9,280.89),(894.0,280.72),(896.5,280.47),(898.9,280.47),(901.7,280.22),(904.2,281.31),(906.3,280.55),(908.7,280.22),(911.2,280.72),(913.3,279.71),(915.8,279.38),(918.2,280.39),(921.0,279.71),(923.8,280.30),(926.3,280.64),(928.8,281.23),(930.9,281.90),
(933.0,281.65),(935.4,281.81),(937.9,281.48),(940.0,281.90),(942.4,282.15),(944.9,281.90),(947.0,281.73),(949.4,281.81),(951.9,282.07),(954.7,282.61),(956.5,281.90),(958.9,281.06),(961.0,281.48),(963.5,281.14),(965.6,280.97),(967.7,280.55),(969.8,280.97),(972.3,281.56),(974.0,280.39),(975.8,279.80),(978.2,280.64),(981.0,280.47),(983.5,280.22),(985.6,279.54),(988.1,280.30),(990.5,280.22),(992.6,279.88),(995.1,279.29),(997.5,278.45),(999.6,279.04),(1002.1,279.71),(1004.2,279.54),(1006.7,279.21),(1009.1,278.87),(1011.2,279.04),(1013.7,280.22),(1016.1,279.38),(1018.6,279.21),(1020.7,279.04),(1023.2,278.45),(1024.9,278.54),(1026.7,276.69),(1029.1,277.36),(1031.6,276.60),(1033.7,276.94),(1036.2,276.77),(1038.3,277.02),(1040.7,276.52),(1043.2,276.85),(1045.3,276.52),(1047.7,276.77),(1050.2,276.10),(1052.3,275.85),(1054.8,276.01),(1057.2,276.35),(1060.0,276.69),(1062.5,276.18),(1064.6,276.27),(1067.1,275.68),(1069.5,275.42),(1071.6,275.34),(1074.1,274.84),(1076.5,274.50),(1078.6,275.68),(1080.4,275.93),(1082.9,275.76),(1085.3,274.67),(1087.4,274.25),(1089.9,274.50),(1092.3,273.83),(1094.4,273.66),(1096.9,274.25),(1099.0,275.17),(1101.5,273.83),(1103.9,274.25),(1106.0,275.51),(1108.5,273.91),(1110.9,274.25),(1112.7,274.92),(1115.1,273.83),(1118.0,273.91),(1120.4,274.00),(1122.5,273.83),(1125.0,273.91),(1127.8,273.74),(1130.2,273.74),(1132.7,273.66),(1134.8,273.74),(1137.3,274.08),(1139.7,274.08),(1142.5,274.00),(1145.0,273.91),(1147.8,274.16),(1150.3,274.08),(1152.4,274.00),(1154.8,274.50),(1157.3,274.75),(1159.4,274.50),(1161.8,274.00),(1164.3,274.75),(1166.4,274.58),(1168.9,274.33),(1171.3,275.51),(1173.4,275.09),(1175.9,275.17),(1178.3,275.26),(1180.4,275.34),(1182.9,275.09),(1185.4,274.33),(1187.5,274.33),(1189.9,275.85),(1192.4,275.09),(1195.2,276.69),(1197.7,276.85),(1199.8,277.11),(1202.2,277.44),(1204.7,276.18),(1206.8,277.11),(1209.2,277.02),(1211.7,277.61),(1213.8,276.43),(1216.2,277.53),(1218.7,277.61),(1220.8,277.11),(1223.3,277.27),(1225.7,277.02),(1227.8,277.70),(1230.3,277.19),(1232.8,278.03),(1234.9,277.36),(1237.3,277.02),(1239.8,277.61),(1241.9,277.36),(1244.3,278.03),(1246.8,279.04),(1248.9,279.04),(1251.4,279.54),(1253.8,279.71),(1255.9,279.38),(1258.4,279.54),(1260.8,279.21),(1262.9,278.96),(1265.4,278.96),(1267.9,278.87),(1270.0,278.70),(1271.7,279.21),(1273.5,279.80),(1275.2,280.22),(1277.0,280.89),(1279.4,282.40),(1281.9,283.92),(1284.0,284.50),(1286.5,283.07),(1288.9,284.00),(1290.7,283.50),(1292.8,284.59),(1295.2,284.08),(1297.7,284.80),(1299.8,284.67),(1301.6,283.50),(1304.0,283.24),(1306.5,282.99),(1308.6,282.40),(1311.0,282.74),(1313.5,283.75),(1315.6,284.42),(1317.4,284.08),(1319.1,284.50),(1320.5,283.92),(1322.6,282.40),(1325.1,282.24),(1326.8,281.81),(1328.6,280.97),(1331.0,282.40),(1333.2,281.56),(1335.6,283.24),(1337.4,283.58),(1339.1,282.82),(1341.6,280.89),(1343.3,279.29),(1345.4,279.21),(1347.9,279.71),(1350.4,279.88),(1353.2,279.71),(1355.6,280.22),(1357.7,279.54),(1360.2,279.04),(1362.6,278.45),(1365.4,279.12),(1367.9,277.95),(1370.0,278.28)]

# ---------------- styling ----------------
FONT = "Liberation Sans"
GREEN = "#00cd00"
SHADE = "#dcdde0"
X_RANGE = (-149.8, 1428.1)
LINE_W = 3.7


def style_title(t):
    t.text_font = FONT
    t.text_font_size = "66px"
    t.text_font_style = "bold"
    t.text_color = "black"
    t.align = "left"


def base_figure(title, frame_h, b_top, b_bottom, yr, yticks, ylabels, ylab, x_standoff):
    kw = dict(frame_width=2580, frame_height=frame_h,
              min_border_left=283, min_border_right=57,
              min_border_top=b_top, min_border_bottom=b_bottom,
              x_range=Range1d(*X_RANGE), y_range=Range1d(*yr),
              output_backend="svg", toolbar_location=None, tools="")
    if title:
        kw["title"] = title
    p = figure(**kw)
    p.xgrid.visible = False
    p.ygrid.visible = False
    p.background_fill_color = "white"
    p.border_fill_color = "white"
    p.outline_line_color = "black"
    p.outline_line_width = 3.5
    p.outline_line_alpha = 1.0
    if p.title is not None:
        style_title(p.title)

    xa = p.xaxis[0]
    xa.ticker = FixedTicker(ticks=year_ticks, minor_ticks=[])
    xa.major_label_overrides = {t: l for t, l in zip(year_ticks, year_labels)}
    xa.axis_line_color = None
    xa.major_tick_in = 0
    xa.major_tick_out = 37
    xa.major_tick_line_width = 3
    xa.minor_tick_line_color = None
    xa.major_label_text_font = FONT
    xa.major_label_text_font_size = "64px"
    xa.major_label_text_color = "black"
    xa.major_label_text_line_height = 1.0
    xa.major_label_standoff = x_standoff

    ya = p.yaxis[0]
    ya.ticker = FixedTicker(ticks=yticks, minor_ticks=[])
    ya.major_label_overrides = {t: l for t, l in zip(yticks, ylabels)}
    ya.axis_line_color = None
    ya.major_tick_in = 0
    ya.major_tick_out = 38
    ya.major_tick_line_width = 3
    ya.minor_tick_line_color = None
    ya.major_label_text_font = FONT
    ya.major_label_text_font_size = "64px"
    ya.major_label_text_color = "black"
    ya.major_label_orientation = "vertical"
    ya.major_label_standoff = 20
    ya.axis_label = ylab
    ya.axis_label_text_font = FONT
    ya.axis_label_text_font_size = "78px"
    ya.axis_label_text_font_style = "normal"
    ya.axis_label_text_color = "black"
    ya.axis_label_standoff = 42
    return p


# ---------------- Discharge ----------------
p1 = base_figure("Discharge", 608, 125, 232, (0.02, 9.18), q_ticks, q_labels, "Q (m3/s)", 21)
p1.title.offset = 1104
p1.title.standoff = 43
# invisible spacer under the date labels (pushes the lower title down)
p1.xaxis[0].axis_label = "\u00a0"
p1.xaxis[0].axis_label_text_font_size = "12px"
p1.xaxis[0].axis_label_text_alpha = 0.0
p1.xaxis[0].axis_label_standoff = 8
p1.add_layout(BoxAnnotation(left=calib_q[0], right=calib_q[1], fill_color=SHADE,
                            fill_alpha=1.0, line_color=None, level="underlay"))
qx_o, qy_o = zip(*q_obs)
qx_m, qy_m = zip(*q_mod)
r_obs = p1.line(list(qx_o), list(qy_o), line_color="black", line_width=LINE_W, line_join="round")
r_mod = p1.line(list(qx_m), list(qy_m), line_color=GREEN, line_width=LINE_W, line_join="round")

p1.add_layout(Label(x=-111.9, y=8.35, text=kge_q, text_font=FONT, text_font_size="60px",
                    text_align="left", text_baseline="middle", text_color="black"))
p1.add_layout(Label(x=1217.7, y=8.42, text="Calibration", text_font=FONT, text_font_size="60px",
                    text_align="center", text_baseline="middle", text_color="black"))
legend = Legend(items=[LegendItem(label="Measures", renderers=[r_obs]),
                       LegendItem(label="Model", renderers=[r_mod])],
                location=(60, 351), glyph_width=109, glyph_height=80, label_height=80,
                label_standoff=28, spacing=0, padding=0, margin=0,
                border_line_color=None, background_fill_alpha=0.0,
                label_text_font=FONT, label_text_font_size="58px", label_text_color="black")
p1.add_layout(legend)

# title of the lower panel, stacked under the upper panel's date axis
t_title = Title(text="Temperature")
style_title(t_title)
t_title.offset = 1068
t_title.standoff = 19
p1.add_layout(t_title, "below")

# ---------------- Temperature ----------------
p2 = base_figure(None, 609, 7, 110, (272.77, 285.35), t_ticks, t_labels, "T (°C)", 8)
p2.add_layout(BoxAnnotation(left=calib_t[0], right=calib_t[1], fill_color=SHADE,
                            fill_alpha=1.0, line_color=None, level="underlay"))
tx_o, ty_o = zip(*t_obs)
tx_m, ty_m = zip(*t_mod)
p2.line(list(tx_o), list(ty_o), line_color="black", line_width=LINE_W, line_join="round")
p2.line(list(tx_m), list(ty_m), line_color=GREEN, line_width=LINE_W, line_join="round")
p2.add_layout(Label(x=-107.0, y=283.89, text=kge_t, text_font=FONT, text_font_size="60px",
                    text_align="left", text_baseline="middle", text_color="black"))

layout = column(p1, p2, spacing=0)
open("out.html", "w").write(file_html(layout, INLINE))
